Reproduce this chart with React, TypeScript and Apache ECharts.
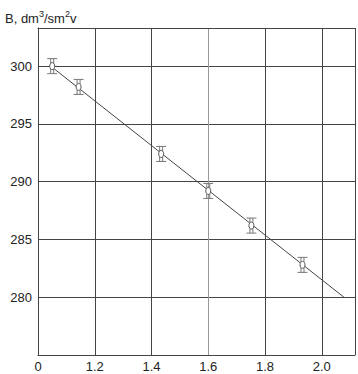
import React, { useEffect, useRef } from "react";
import * as echarts from "echarts";

const xValues = [1.05, 1.143, 1.434, 1.6, 1.752, 1.932];
const yValues = [300.0, 298.2, 292.4, 289.2, 286.2, 282.8];
const errors = [0.65, 0.65, 0.65, 0.65, 0.65, 0.65];
const fitLine = [
  [1.05, 299.9],
  [2.078, 280.0],
];
const yTickLabels = ["280", "285", "290", "295", "300"];
const xTickLabels = ["0", "1.2", "1.4", "1.6", "1.8", "2.0"];

export default function App() {
  const ref = useRef<HTMLDivElement>(null);
  useEffect(() => {
    if (!ref.current) return;
    const chart = echarts.init(ref.current, null, { renderer: "svg" });
    const points = xValues.map((x, i) => [x, yValues[i], errors[i]]);
    const font = "Liberation Sans, Arial, sans-serif";
    chart.setOption({
      animation: false,
      backgroundColor: "#ffffff",
      title: {
        text: "{n|B, dm}{s|3}{n|/sm}{s|2}{n|v}",
        left: 5,
        top: 9,
        padding: 0,
        textStyle: {
          fontWeight: "normal",
          rich: {
            n: { fontSize: 13, fontWeight: "normal", color: "#222", fontFamily: font, verticalAlign: "bottom", lineHeight: 16 },
            s: { fontSize: 9, fontWeight: "normal", color: "#222", fontFamily: font, verticalAlign: "top", lineHeight: 16, padding: [0, 0, 6, 0] },
          },
        },
      },
      grid: { left: 38, top: 28, right: 0, bottom: 19 },
      xAxis: [
        {
          type: "value",
          min: 1.0,
          max: 2.117,
          interval: 0.2,
          axisLine: { show: true, lineStyle: { color: "#444", width: 1 } },
          axisTick: { show: false },
          splitLine: {
            show: true,
            lineStyle: { color: ["#444", "#444", "#444", "#999", "#444", "#444"], width: 1 },
          },
          axisLabel: {
            margin: 5,
            fontSize: 13,
            color: "#222",
            fontFamily: font,
            formatter: (v: number) => {
              const idx = Math.round((v - 1.0) / 0.2);
              return xTickLabels[idx] ?? "";
            },
          },
        },
        {
          type: "value",
          position: "top",
          min: 1.0,
          max: 2.117,
          axisLine: { show: true, onZero: false, lineStyle: { color: "#444", width: 1 } },
          axisTick: { show: false },
          axisLabel: { show: false },
          splitLine: { show: false },
        },
      ],
      yAxis: {
        type: "value",
        min: 275,
        max: 303.3,
        interval: 5,
        axisLine: { show: true, lineStyle: { color: "#444", width: 1 } },
        axisTick: { show: false },
        splitLine: { show: true, lineStyle: { color: "#444", width: 1 } },
        axisLabel: {
          margin: 6,
          fontSize: 13,
          color: "#222",
          fontFamily: font,
          formatter: (v: number) => {
            const idx = Math.round((v - 280) / 5);
            return idx >= 0 ? yTickLabels[idx] ?? "" : "";
          },
        },
      },
      series: [
        {
          type: "line",
          data: fitLine,
          symbol: "none",
          lineStyle: { color: "#444", width: 1 },
          z: 3,
        },
        {
          type: "custom",
          data: points,
          z: 4,
          renderItem: (params: any, api: any) => {
            const x = api.value(0);
            const y = api.value(1);
            const e = api.value(2);
            const c = api.coord([x, y]);
            const top = api.coord([x, y + e]);
            const bot = api.coord([x, y - e]);
            const stroke = "#777";
            const hw = 5;
            return {
              type: "group",
              children: [
                { type: "line", shape: { x1: c[0] - 1.5, y1: top[1], x2: c[0] - 1.5, y2: bot[1] }, style: { stroke, lineWidth: 1 } },
                { type: "line", shape: { x1: c[0] + 1.5, y1: top[1], x2: c[0] + 1.5, y2: bot[1] }, style: { stroke, lineWidth: 1 } },
                { type: "line", shape: { x1: c[0] - hw, y1: top[1], x2: c[0] + hw, y2: top[1] }, style: { stroke, lineWidth: 1 } },
                { type: "line", shape: { x1: c[0] - hw, y1: bot[1], x2: c[0] + hw, y2: bot[1] }, style: { stroke, lineWidth: 1 } },
                { type: "ellipse", shape: { cx: c[0], cy: c[1], rx: 2.5, ry: 3.5 }, style: { stroke: "#555", fill: "#fff", lineWidth: 1 } },
              ],
            };
          },
        },
      ],
    });
    return () => chart.dispose();
  }, []);
  return (
    <div
      ref={ref}
      style={{ position: "fixed", left: 0, top: 0, width: 358, height: 374 }}
    />
  );
}
